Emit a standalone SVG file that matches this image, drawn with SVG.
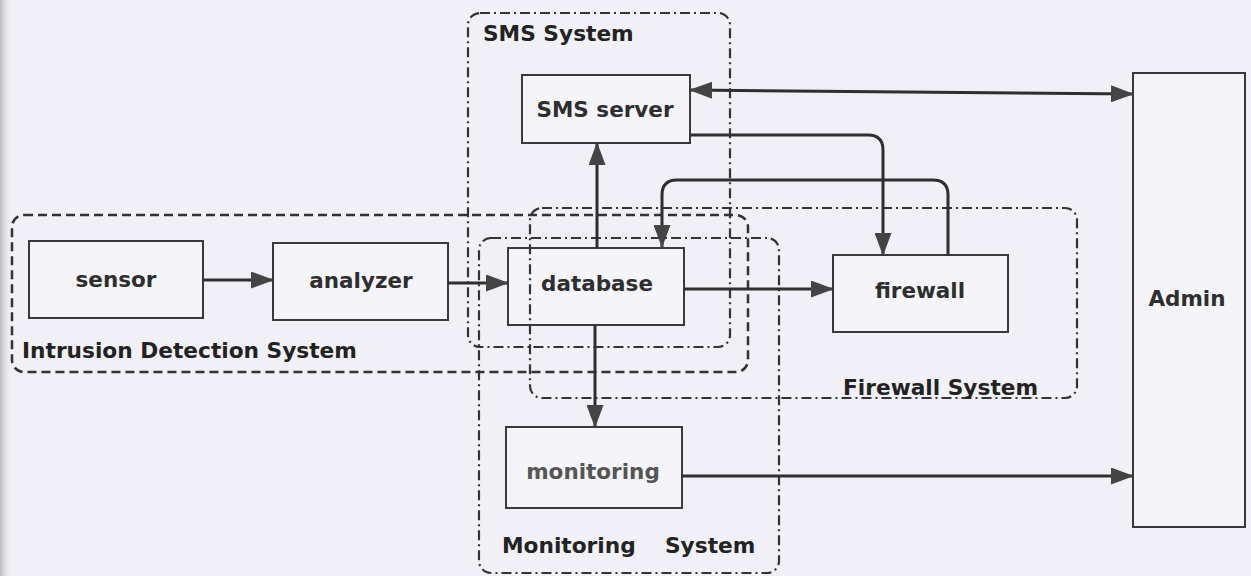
<svg xmlns="http://www.w3.org/2000/svg" width="1251" height="576" viewBox="0 0 1251 576">
<defs>
<marker id="ah" viewBox="0 0 23 17" refX="22" refY="8.5" markerWidth="23" markerHeight="17" markerUnits="userSpaceOnUse" orient="auto-start-reverse">
<path d="M0,0 L23,8.5 L0,17 z" fill="#444"/>
</marker>
<linearGradient id="edge" x1="0" x2="1" y1="0" y2="0">
<stop offset="0" stop-color="#b9b9bd"/>
<stop offset="1" stop-color="#f1f0f6" stop-opacity="0"/>
</linearGradient>
</defs>
<style>
.node{fill:#f5f4f9;stroke:#3a3a3a;stroke-width:2}
.lbl{font-family:"DejaVu Sans",Verdana,sans-serif;font-weight:bold;font-size:21.5px;fill:#2e2e2e;text-anchor:middle}
.title{font-family:"DejaVu Sans",Verdana,sans-serif;font-weight:bold;font-size:21.7px;fill:#222}
.dashed{fill:none;stroke:#333;stroke-width:2.5;stroke-dasharray:9 5}
.dashdot{fill:none;stroke:#333;stroke-width:2.2;stroke-dasharray:10 4 2 4}
.conn{fill:none;stroke:#2f2f2f;stroke-width:3;marker-end:url(#ah)}
</style>
<rect x="0" y="0" width="1251" height="576" fill="#f1f0f6"/>
<rect x="0" y="0" width="12" height="576" fill="url(#edge)"/>

<g id="node-sensor"><rect class="node" x="29" y="241" width="174" height="77"/><text class="lbl" x="116" y="287">sensor</text></g>
<g id="node-analyzer"><rect class="node" x="273" y="243" width="175" height="77"/><text class="lbl" x="361" y="288">analyzer</text></g>
<g id="node-database"><rect class="node" x="508" y="248" width="176" height="77"/><text class="lbl" x="597" y="291">database</text></g>
<g id="node-sms-server"><rect class="node" x="522" y="75" width="168" height="68"/><text class="lbl" x="605" y="117">SMS server</text></g>
<g id="node-firewall"><rect class="node" x="833" y="255" width="175" height="77"/><text class="lbl" x="920" y="298">firewall</text></g>
<g id="node-monitoring"><rect class="node" x="506" y="427" width="176" height="81"/><text class="lbl" x="593" y="479" style="fill:#555">monitoring</text></g>
<g id="node-admin"><rect class="node" x="1133" y="73" width="112" height="454"/><text class="lbl" x="1187" y="306">Admin</text></g>

<g id="group-sms-system"><rect class="dashdot" x="468" y="13" width="262" height="334" rx="12"/><text class="title" x="483" y="41">SMS System</text></g>
<g id="group-ids"><rect class="dashed" x="12" y="215" width="736" height="157" rx="12"/><text class="title" x="22" y="358">Intrusion Detection System</text></g>
<g id="group-firewall-system"><rect class="dashdot" x="530" y="208" width="547" height="190" rx="12"/><text class="title" x="843" y="395">Firewall System</text></g>
<g id="group-monitoring-system"><rect class="dashdot" x="479" y="238" width="300" height="335" rx="12"/><text class="title" x="502" y="553">Monitoring<tspan x="665">System</tspan></text></g>

<g id="connectors">
<path class="conn" d="M203,280 H273"/>
<path class="conn" d="M448,283 H508"/>
<path class="conn" d="M684,289 H833"/>
<path class="conn" d="M597,248 V143"/>
<path class="conn" d="M595,325 V427"/>
<path class="conn" d="M690,90 L1133,94" style="marker-start:url(#ah)"/>
<path class="conn" d="M690,135 H868 Q883,135 883,150 V255"/>
<path class="conn" d="M948,255 V195 Q948,180 933,180 H677 Q662,180 662,195 V247"/>
<path class="conn" d="M682,476 H1133"/>
</g>
</svg>
